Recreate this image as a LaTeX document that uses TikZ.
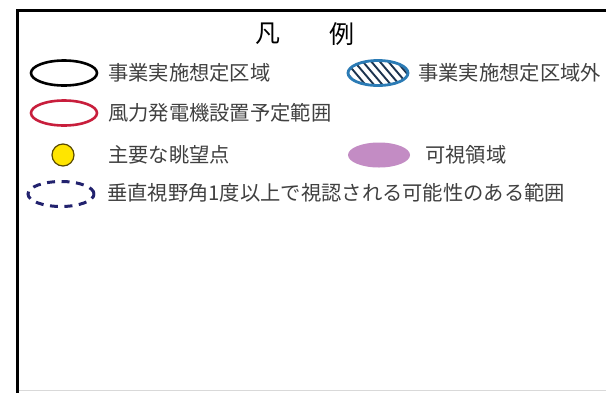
\documentclass[tikz,border=0pt]{standalone}
\usepackage{fontspec}
\setmainfont{Noto Sans CJK JP}
\usetikzlibrary{shapes.geometric}
\definecolor{txtgray}{HTML}{404040}
\definecolor{redline}{HTML}{C81E3C}
\definecolor{blueline}{HTML}{2B7BB5}
\definecolor{hatchcol}{HTML}{1E3550}
\definecolor{yellowfill}{HTML}{FFE500}
\definecolor{yellowline}{HTML}{5A4A00}
\definecolor{purplefill}{HTML}{C38CC4}
\definecolor{navyline}{HTML}{22226E}
\begin{document}
\begin{tikzpicture}[x=1pt,y=-1pt,
  lbl/.style={anchor=west, inner sep=0pt, font=\fontsize{20.3}{21}\selectfont, text=txtgray},
  ttl/.style={inner sep=0pt, font=\fontsize{25}{26}\selectfont, text=black},
  sym/.style={ellipse, inner sep=0pt, minimum width=66pt, minimum height=25pt},
  hatched/.style={sym, minimum width=60pt, draw=blueline, line width=2.8pt,
    path picture={
      \foreach \i in {-48,-39.5,...,48}{
        \draw[hatchcol, line width=1.9pt]
          ([xshift=\i pt-14pt,yshift=4pt]path picture bounding box.north)
          -- ([xshift=\i pt+14pt,yshift=-4pt]path picture bounding box.south);
      }
    }}
]
\useasboundingbox (0,0) rectangle (606,392);
\fill[white] (0,0) rectangle (606,392);
\draw[line width=3pt] (17,393) -- (17,10) -- (610,10);
\draw[black!15, line width=0.8pt] (18.5,390.5) -- (606,390.5);

\node[ttl] (t1) at (268,34) {凡};
\node[ttl] (t2) at (342,34) {例};

% row 1
\node[sym, draw=black, line width=2.6pt] (s1) at (64,73) {};
\node[lbl] (l1) at (108,73) {事業実施想定区域};
\node[hatched] (s2) at (378,73) {};
\node[lbl] (l2) at (418,73) {事業実施想定区域外};

% row 2
\node[sym, draw=redline, line width=2.6pt] (s3) at (64,113) {};
\node[lbl] (l3) at (108,113) {風力発電機設置予定範囲};

% row 3
\node[circle, inner sep=0pt, minimum size=22pt, fill=yellowfill, draw=yellowline, line width=1.2pt] (s4) at (63,155) {};
\node[lbl] (l4) at (108,155) {主要な眺望点};
\node[sym, minimum width=62pt, minimum height=25pt, fill=purplefill] (s5) at (379,155) {};
\node[lbl] (l5) at (425,155) {可視領域};

% row 4
\node[sym, draw=navyline, line width=3pt, dash pattern=on 8pt off 6.5pt] (s6) at (61,194) {};
\node[lbl] (l6) at (107,193) {垂直視野角1度以上で視認される可能性のある範囲};
\end{tikzpicture}
\end{document}
